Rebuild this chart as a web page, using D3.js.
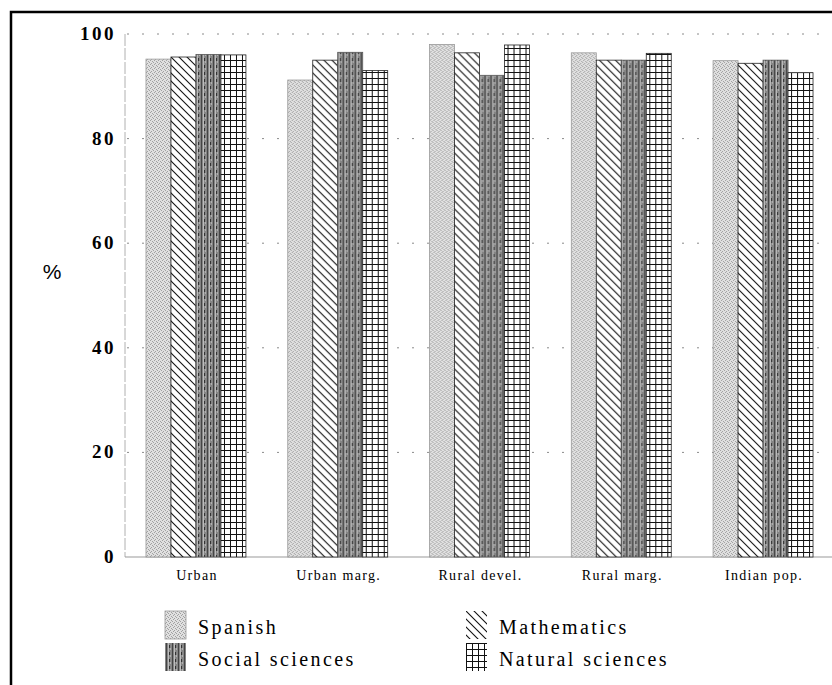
<!DOCTYPE html>
<html>
<head>
<meta charset="utf-8">
<script src="https://cdn.jsdelivr.net/npm/d3@7"></script>
<style>
  html, body { margin: 0; padding: 0; background: #fff; }
  svg { display: block; }
</style>
</head>
<body>
<svg id="chart" width="832" height="685"></svg>
<script>
// ---- data ----
const categories = ["Urban", "Urban marg.", "Rural devel.", "Rural marg.", "Indian pop."];
const series = ["Spanish", "Mathematics", "Social sciences", "Natural sciences"];
const spanish   = [95.2, 91.2, 98.0, 96.4, 94.9];
const mathematics = [95.6, 95.0, 96.4, 95.0, 94.4];
const socialSci = [96.1, 96.5, 92.1, 95.0, 95.0];
const naturalSci = [96.0, 93.0, 97.9, 96.3, 92.6];
const yTicks = [0, 20, 40, 60, 80, 100];

const values = [spanish, mathematics, socialSci, naturalSci];

const SERIF = '"Liberation Serif", "Times New Roman", Tinos, serif';
const SANS = '"Liberation Sans", Arial, sans-serif';

const svg = d3.select("#chart");
const defs = svg.append("defs");

// Spanish: light stipple
const pS = defs.append("pattern").attr("id", "pSpanish").attr("patternUnits", "userSpaceOnUse")
  .attr("width", 4).attr("height", 4);
pS.append("rect").attr("width", 4).attr("height", 4).attr("fill", "#e0e0e0");
[[0,0],[2,1],[1,3],[3,2]].forEach(([x,y]) => pS.append("rect").attr("x", x).attr("y", y)
  .attr("width", 1).attr("height", 1).attr("fill", "#a0a0a0"));

// Mathematics: diagonal lines (\)
const pM = defs.append("pattern").attr("id", "pMath").attr("patternUnits", "userSpaceOnUse")
  .attr("width", 8).attr("height", 8);
pM.append("rect").attr("width", 8).attr("height", 8).attr("fill", "#fff");
pM.append("path").attr("d", "M0,0 L8,8 M-4,4 L4,12 M4,-4 L12,4")
  .attr("stroke", "#111").attr("stroke-width", 1.1);

// Social sciences: dark mottled vertical streaks
const pSo = defs.append("pattern").attr("id", "pSocial").attr("patternUnits", "userSpaceOnUse")
  .attr("width", 6).attr("height", 7);
pSo.append("rect").attr("width", 6).attr("height", 7).attr("fill", "#858585");
pSo.append("rect").attr("x", 1).attr("y", 0).attr("width", 1).attr("height", 7).attr("fill", "#444");
pSo.append("rect").attr("x", 3).attr("y", 0).attr("width", 1).attr("height", 7).attr("fill", "#bdbdbd");
pSo.append("rect").attr("x", 4).attr("y", 2).attr("width", 1).attr("height", 3).attr("fill", "#333");
pSo.append("rect").attr("x", 5).attr("y", 5).attr("width", 1).attr("height", 2).attr("fill", "#b0b0b0");

// Natural sciences: grid
const pN = defs.append("pattern").attr("id", "pNatural").attr("patternUnits", "userSpaceOnUse")
  .attr("width", 6).attr("height", 6);
pN.append("rect").attr("width", 6).attr("height", 6).attr("fill", "#fff");
pN.append("path").attr("d", "M0,0.5 H6 M0.5,0 V6").attr("stroke", "#111").attr("stroke-width", 1);

const fills = ["url(#pSpanish)", "url(#pMath)", "url(#pSocial)", "url(#pNatural)"];
const strokes = ["#9a9a9a", "#222", "#555", "#222"];

// ---- scales ----
const x0 = d3.scaleBand().domain(categories).range([125, 834]).paddingInner(0.295).paddingOuter(0.148);
const x1 = d3.scaleBand().domain(series).range([0, x0.bandwidth()]);
const y = d3.scaleLinear().domain([0, 100]).range([557, 34]);

// frame
svg.append("path").attr("d", "M11,690 V12 H840").attr("fill", "none")
  .attr("stroke", "#000").attr("stroke-width", 2.5);

// gridlines
svg.append("g").selectAll("line").data(yTicks.filter(d => d > 0)).join("line")
  .attr("x1", 127).attr("x2", 832)
  .attr("y1", d => y(d)).attr("y2", d => y(d))
  .attr("stroke", "#8a8a8a").attr("stroke-width", 1).attr("stroke-dasharray", "2,13");

// y axis line
svg.append("line").attr("x1", 125).attr("x2", 125).attr("y1", y(100)).attr("y2", y(0))
  .attr("stroke", "#b0b0b0").attr("stroke-width", 1).attr("stroke-dasharray", "12,2");
// baseline
svg.append("line").attr("x1", 125).attr("x2", 832).attr("y1", y(0)).attr("y2", y(0))
  .attr("stroke", "#9a9a9a").attr("stroke-width", 1.2);

// tick labels
svg.append("g").selectAll("text").data(yTicks).join("text")
  .style("font-family", SERIF)
  .attr("x", 116).attr("y", d => y(d) + 6)
  .attr("text-anchor", "end")
  .attr("font-weight", "bold").attr("font-size", 19)
  .attr("letter-spacing", 2.5)
  .text(d => d);

// % label
svg.append("text").style("font-family", SANS).attr("x", 52).attr("y", 279)
  .attr("text-anchor", "middle")
  .attr("font-size", 21).text("%");

// bars
const groups = svg.append("g").selectAll("g").data(categories).join("g")
  .attr("transform", d => `translate(${x0(d)},0)`);
groups.selectAll("rect").data((c, ci) => series.map((s, si) => ({ s, si, v: values[si][ci] })))
  .join("rect")
  .attr("x", d => x1(d.s))
  .attr("width", x1.bandwidth())
  .attr("y", d => y(d.v))
  .attr("height", d => y(0) - y(d.v))
  .attr("fill", d => fills[d.si])
  .attr("stroke", d => strokes[d.si])
  .attr("stroke-width", 0.8);

// category labels
svg.append("g").selectAll("text").data(categories).join("text")
  .style("font-family", SERIF)
  .attr("x", d => x0(d) + x0.bandwidth() / 2 + 1)
  .attr("y", 580)
  .attr("text-anchor", "middle")
  .attr("font-size", 14).attr("letter-spacing", 1.3)
  .text(d => d);

// legend
const legendPos = [
  { x: 165, y: 611 }, { x: 466, y: 611 },
  { x: 165, y: 643 }, { x: 466, y: 643 }
];
const lg = svg.append("g").selectAll("g").data(series).join("g")
  .attr("transform", (d, i) => `translate(${legendPos[i].x},${legendPos[i].y})`);
lg.append("rect").attr("width", 21).attr("height", 28)
  .attr("fill", (d, i) => fills[i])
  .attr("stroke", (d, i) => i === 0 ? "#999" : "none").attr("stroke-width", 0.8);
lg.append("text").style("font-family", SERIF).attr("x", 33).attr("y", 23)
  .attr("font-size", 20).attr("letter-spacing", 2.4)
  .text(d => d);
</script>
</body>
</html>
